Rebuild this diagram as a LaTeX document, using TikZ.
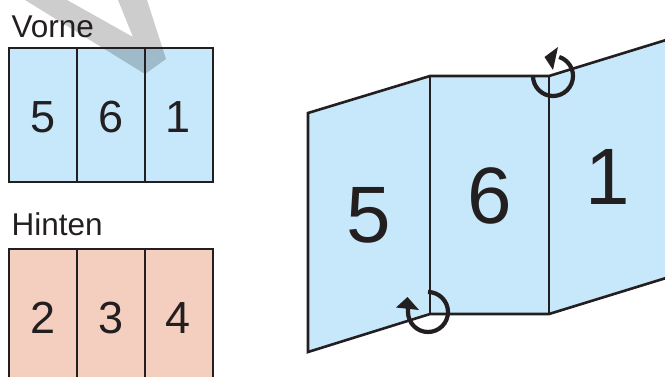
\documentclass[tikz,border=0pt]{standalone}
\usepackage{fontspec}
\setmainfont{Liberation Sans}
\definecolor{pblue}{HTML}{C7E8FA}
\definecolor{psalmon}{HTML}{F4CFC0}
\definecolor{pink}{HTML}{231F20}
\definecolor{pgray}{HTML}{CDCDCD}
\tikzset{
  panel/.style={draw=pink,line width=1.5pt,line join=miter},
  divider/.style={draw=pink,line width=1.5pt},
  fold/.style={draw=pink,line width=2.6pt,line join=miter},
  foldarrow/.style={draw=pink,line width=4.2pt},
  headfill/.style={fill=pink,draw=none},
  smalldigit/.style={text=pink,inner sep=0pt,font=\fontsize{45}{45}\selectfont},
  bigdigit/.style={text=pink,inner sep=0pt,font=\fontsize{80}{80}\selectfont},
  heading/.style={text=pink,inner sep=0pt,anchor=base west,font=\fontsize{31.5}{31.5}\selectfont}
}
\begin{document}
\begin{tikzpicture}[x=1pt,y=-1pt]
\useasboundingbox (0,0) rectangle (665,376);
% left: front
\fill[pblue] (9,48) rectangle (213,182);
\begin{scope}
\pgfsetblendmode{multiply}
\fill[pgray] (25,0) -- (145,74) -- (166,59) -- (147,0) -- (118,0) -- (133,37) -- (67,0) -- cycle;
\end{scope}
\draw[panel] (9,48) rectangle (213,182);
\draw[divider] (77,48) -- (77,182);
\draw[divider] (145,48) -- (145,182);
\node[smalldigit] (a5) at (43,117) {5};
\node[smalldigit] (a6) at (111,117) {6};
\node[smalldigit] (a1) at (178,117) {1};
\node[heading] (vorne) at (11.5,37) {Vorne};
% left: back
\fill[psalmon] (9,249) rectangle (213,377);
\draw[panel] (9,378) -- (9,249) -- (213,249) -- (213,378);
\draw[divider] (77,249) -- (77,378);
\draw[divider] (145,249) -- (145,378);
\node[smalldigit] (b2) at (43,318) {2};
\node[smalldigit] (b3) at (111,318) {3};
\node[smalldigit] (b4) at (178,318) {4};
\node[heading] (hinten) at (11.5,235) {Hinten};
% right: folded
\fill[pblue] (308,113) -- (430,76) -- (549,76) -- (666,40) -- (666,278) -- (549,314) -- (430,314) -- (308,352) -- cycle;
\draw[fold] (666,40) -- (549,76) -- (430,76) -- (308,113) -- (308,352) -- (430,314) -- (549,314) -- (666,278);
\draw[fold] (430,76) -- (430,314);
\draw[fold] (549,76) -- (549,314);
\node[bigdigit] (c5) at (369,215.5) {5};
\node[bigdigit] (c6) at (490,195.5) {6};
\node[bigdigit] (c1) at (608,176.5) {1};
% fold arrows
\draw[foldarrow] (533,76) arc[start angle=180,end angle=-72,radius=20];
\fill[headfill] (558,47) -- (544.5,57) -- (553,70) -- cycle;
\draw[foldarrow] (428,292) arc[start angle=-90,end angle=180,radius=20] -- (408,306);
\fill[headfill] (407.5,297) -- (396,307.5) -- (419,310) -- cycle;
\end{tikzpicture}
\end{document}
